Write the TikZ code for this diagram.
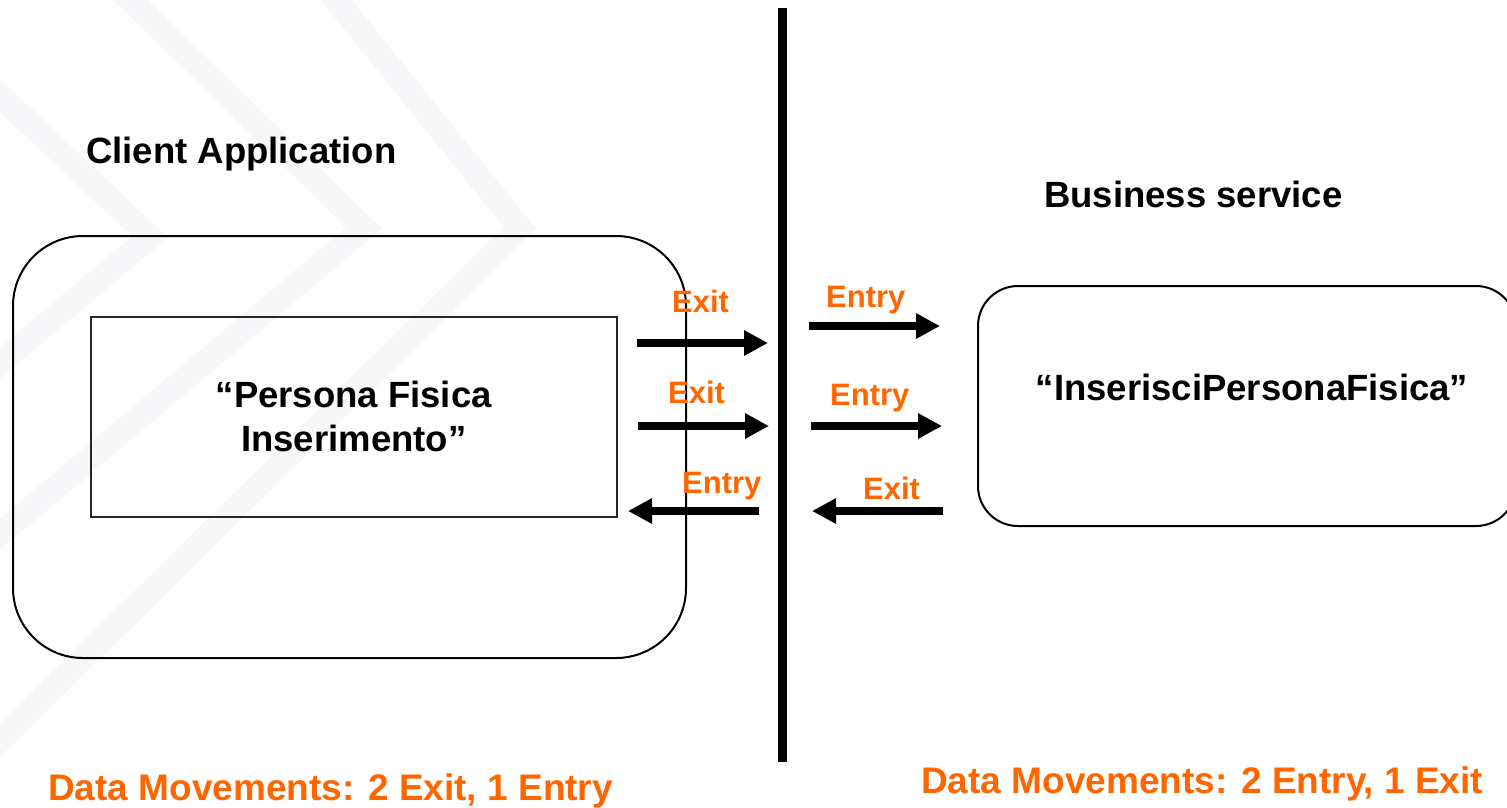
\documentclass[tikz,border=0pt]{standalone}
\usepackage{fontspec}
\setmainfont{Liberation Sans}
\usetikzlibrary{arrows.meta}
\definecolor{orng}{RGB}{255,102,0}
\definecolor{wmark}{RGB}{247,247,249}
\begin{document}
\begin{tikzpicture}[x=1pt,y=-1pt,
  blacktext/.style={font=\bfseries\fontsize{36.5}{44}\selectfont},
  title/.style={blacktext, inner sep=0pt, anchor=base west},
  lbl/.style={font=\bfseries\fontsize{31}{36}\selectfont, text=orng, inner sep=0pt, anchor=base west},
  summary/.style={font=\bfseries\fontsize{37}{42}\selectfont, text=orng, inner sep=0pt, anchor=base west},
  flow/.style={line width=8pt, -{Triangle[length=24pt,width=24pt]}},
  chev/.style={wmark, line width=24pt, line join=miter}
]
\useasboundingbox (0,0) rectangle (1507,807);
% faint watermark chevrons
\draw[chev] (-80,20) -- (150,237) -- (-80,430);
\draw[chev] (110,-20) -- (364,228) -- (-90,610);
\draw[chev] (320,-20) -- (520,228) -- (-20,760);

% divider
\coordinate (vtop) at (782.5,8);
\coordinate (vbot) at (782.5,762);
\draw[line width=8.5pt] (vtop) -- (vbot);

% client application
\node[draw, line width=2pt, rounded corners=70pt, minimum width=673pt, minimum height=422pt, anchor=north west] (client) at (12,235) {};
\node[draw, line width=1.6pt, draw=black!85, minimum width=526pt, minimum height=200pt, anchor=north west,
      blacktext, align=center] (persona) at (90,316) {“Persona Fisica\\Inserimento”};
\node[title] (clienttitle) at (86,163) {Client Application};

% business service
\node[draw, line width=2pt, rounded corners=40pt, minimum width=538pt, minimum height=240pt, anchor=north west] (service) at (977,285) {};
\node[title] (servicetitle) at (1044,207) {Business service};
\node[title, anchor=base] (inserisci) at (1252,400) {“InserisciPersonaFisica”};

% arrows left
\coordinate (a1s) at (637,343);  \coordinate (a1e) at (768,343);
\coordinate (a2s) at (638,426);  \coordinate (a2e) at (769,426);
\coordinate (a3s) at (759,511);  \coordinate (a3e) at (628,511);
\draw[flow] (a1s) -- (a1e);
\draw[flow] (a2s) -- (a2e);
\draw[flow] (a3s) -- (a3e);
% arrows right
\coordinate (b1s) at (809,326);  \coordinate (b1e) at (940,326);
\coordinate (b2s) at (811,426);  \coordinate (b2e) at (942,426);
\coordinate (b3s) at (943,511);  \coordinate (b3e) at (812,511);
\draw[flow] (b1s) -- (b1e);
\draw[flow] (b2s) -- (b2e);
\draw[flow] (b3s) -- (b3e);

% arrow labels
\node[lbl] (l1) at (672,312) {Exit};
\node[lbl] (l2) at (668,403) {Exit};
\node[lbl] (l3) at (682,493) {Entry};
\node[lbl] (r1) at (826,307) {Entry};
\node[lbl] (r2) at (830,405) {Entry};
\node[lbl] (r3) at (863,499) {Exit};

% summaries
\node[summary] (sumleft) at (48,800) {Data Movements: 2 Exit, 1 Entry};
\node[summary] (sumright) at (921,793) {Data Movements: 2 Entry, 1 Exit};
\end{tikzpicture}
\end{document}
